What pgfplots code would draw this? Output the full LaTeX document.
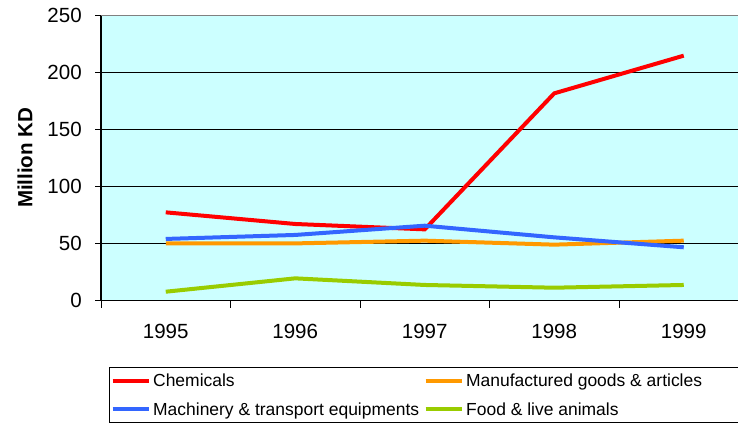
\documentclass[border=0pt]{standalone}
\usepackage{fontspec}
\setmainfont{Liberation Sans}
\usepackage{pgfplots}
\pgfplotsset{compat=1.18}
\definecolor{bgcyan}{RGB}{204,255,255}
\definecolor{cred}{RGB}{255,0,0}
\definecolor{corange}{RGB}{255,153,0}
\definecolor{cblue}{RGB}{51,102,255}
\definecolor{cgreen}{RGB}{153,204,0}
\begin{document}
\begin{tikzpicture}
\useasboundingbox (0,0) rectangle (553.5pt,318.75pt);
\clip (0,0) rectangle (553.5pt,318.75pt);
\begin{axis}[
  at={(75.75pt,93.375pt)}, anchor=south west,
  scale only axis, width=485.625pt, height=214.125pt,
  xmin=-0.5, xmax=4.5, ymin=0, ymax=250,
  axis background/.style={fill=bgcyan},
  axis lines*=left,
  axis line style={black, line width=0.9pt},
  tick align=outside,
  xtick={0,1,2,3,4},
  xticklabels={1995,1996,1997,1998,1999},
  major x tick style={draw=none},
  minor xtick={-0.5,0.5,1.5,2.5,3.5,4.5},
  minor x tick style={black, line width=0.75pt},
  minor tick length=5.25pt,
  ytick={0,50,100,150,200,250},
  major tick length=4.5pt,
  major y tick style={black, line width=0.75pt},
  ymajorgrids,
  grid style={black, line width=0.75pt},
  /pgf/number format/assume math mode=true,
  ticklabel style={font=\fontsize{15.4}{18}\selectfont},
  yticklabel style={anchor=east, inner sep=0pt, xshift=-9.75pt},
  xticklabel style={anchor=center, yshift=-18.9pt},
  ylabel={\bfseries Million KD},
  ylabel style={at={(axis description cs:-0.11737,0.5)}, anchor=center, font=\fontsize{15.4}{18}\selectfont},
  legend columns=2,
  legend cell align=left,
  legend image code/.code={\draw[#1, line width=3pt] (0pt,0pt) -- (27pt,0pt);},
  legend style={at={(0.01236,-0.2315)}, anchor=north west, draw=black, line width=0.75pt,
    inner xsep=0.75pt, inner ysep=4.2pt,
    font=\fontsize{13.1}{15}\selectfont,
    /tikz/column sep=0pt, /tikz/row sep=9.4pt,
    nodes={inner sep=0pt}},
  every axis plot/.append style={line width=3pt},
]
\addplot[cred] coordinates {(0,77.2) (1,67) (2,62.3) (3,181.4) (4,214.4)};
\addlegendentry{\makebox[204.75pt][l]{\strut\hspace{2pt}Chemicals}}
\addplot[corange] coordinates {(0,50) (1,50) (2,52.4) (3,48.9) (4,52.4)};
\addlegendentry{\makebox[211.5pt][l]{\strut\hspace{2pt}Manufactured goods \& articles}}
\addplot[cblue] coordinates {(0,53.9) (1,57.4) (2,65.5) (3,55.3) (4,46.6)};
\addlegendentry{\makebox[204.75pt][l]{\strut\hspace{2pt}Machinery \& transport equipments}}
\addplot[cgreen] coordinates {(0,7.7) (1,19.4) (2,13.6) (3,11.2) (4,13.6)};
\addlegendentry{\makebox[211.5pt][l]{\strut\hspace{2pt}Food \& live animals}}
\draw[gray, line width=1.2pt] (rel axis cs:0,1) -- (rel axis cs:1,1);
\end{axis}
\end{tikzpicture}
\end{document}
